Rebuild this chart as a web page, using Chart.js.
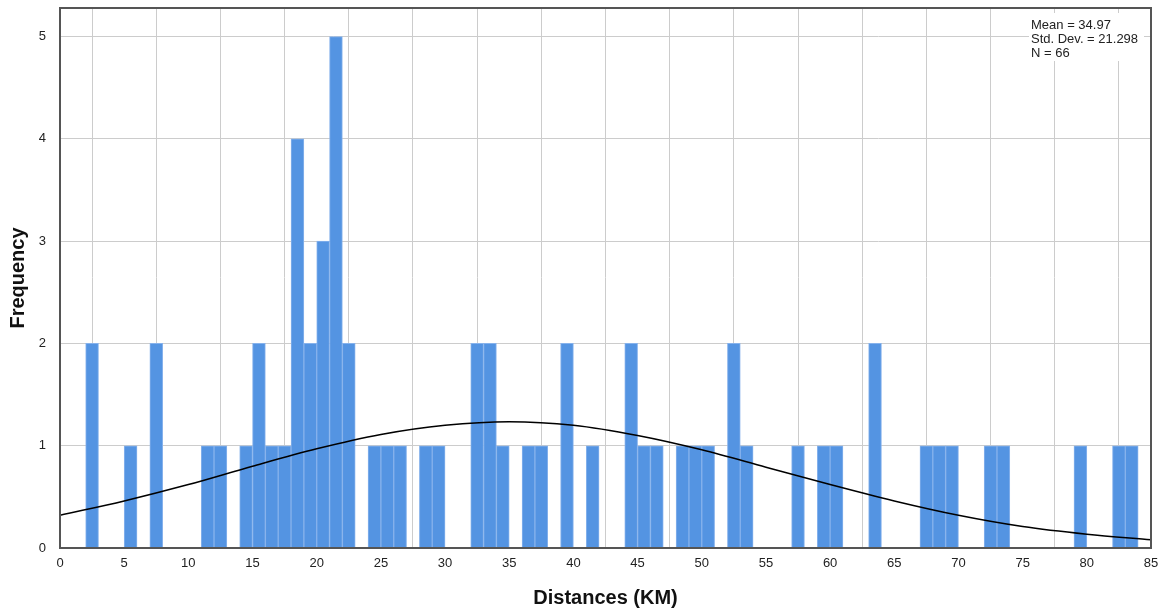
<!DOCTYPE html>
<html>
<head>
<meta charset="utf-8">
<script src="https://cdn.jsdelivr.net/npm/chart.js@4/dist/chart.umd.min.js"></script>
<style>
  html, body { margin: 0; padding: 0; background: #fff; }
  #wrap { width: 1161px; height: 612px; }
</style>
</head>
<body>
<div id="wrap"><canvas id="histChart"></canvas></div>
<script>
// Histogram bins (1 km wide, left edge) with their counts
const binStarts = [2, 5, 7, 11, 12, 14, 15, 16, 17, 18, 19, 20, 21, 22, 24, 25, 26, 28, 29,
    32, 33, 34, 36, 37, 39, 41, 44, 45, 46, 48, 49, 50, 52, 53, 57, 59, 60, 63,
    67, 68, 69, 72, 73, 79, 82, 83];
const frequencies = [2, 1, 2, 1, 1, 1, 2, 1, 1, 4, 2, 3, 5, 2, 1, 1, 1, 1, 1,
    2, 2, 1, 1, 1, 2, 1, 2, 1, 1, 1, 1, 1, 2, 1, 1, 1, 1, 2,
    1, 1, 1, 1, 1, 1, 1, 1];

// Normal curve
const curveX = [0, 5, 10, 15, 20, 25, 30, 35, 40, 45, 50, 55, 60, 65, 70, 75, 80, 85];
const curveY = [0.32, 0.46, 0.62, 0.80, 0.97, 1.11, 1.20, 1.235, 1.20, 1.10, 0.96, 0.79, 0.62, 0.46, 0.32, 0.21, 0.135, 0.08];

const statsLines = ['Mean = 34.97', 'Std. Dev. = 21.298', 'N = 66'];

const barPoints = binStarts.map((b, i) => ({ x: b + 0.5, y: frequencies[i] }));
const curvePoints = curveX.map((x, i) => ({ x: x, y: curveY[i] }));

const fontFamily = '"Liberation Sans", Arial, sans-serif';

const frameAndStats = {
    id: 'frameAndStats',
    afterDraw(chart) {
        const { ctx, chartArea: a } = chart;
        ctx.save();
        // stats box
        ctx.fillStyle = '#fff';
        ctx.fillRect(1029, 13, 115, 48);
        ctx.fillStyle = '#222';
        ctx.font = '13px ' + fontFamily;
        ctx.textBaseline = 'middle';
        statsLines.forEach((t, i) => ctx.fillText(t, 1031, 25 + i * 14));
        // frame
        ctx.strokeStyle = '#555';
        ctx.lineWidth = 2;
        ctx.strokeRect(a.left, a.top, a.right - a.left, a.bottom - a.top);
        ctx.restore();
    }
};

new Chart(document.getElementById('histChart').getContext('2d'), {
    type: 'bar',
    data: {
        datasets: [{
            type: 'line',
            data: curvePoints,
            borderColor: '#000',
            borderWidth: 1.5,
            pointRadius: 0,
            cubicInterpolationMode: 'monotone',
            order: 0
        }, {
            type: 'bar',
            data: barPoints,
            backgroundColor: '#5494e2',
            borderColor: '#86b2ec',
            borderWidth: 1,
            barPercentage: 1,
            categoryPercentage: 1,
            order: 1
        }]
    },
    options: {
        responsive: true,
        maintainAspectRatio: false,
        animation: false,
        layout: {
            padding: { left: 0, right: 10, top: 8, bottom: 0 }
        },
        plugins: {
            legend: { display: false },
            tooltip: { enabled: false }
        },
        scales: {
            x: {
                type: 'linear',
                min: 0,
                max: 85,
                offset: false,
                afterFit: axis => {
                    axis.height = 64;
                    axis.paddingLeft = 0;
                    axis.paddingRight = 0;
                },
                grid: { color: '#cccccc', lineWidth: 1, drawTicks: false },
                border: { color: '#555', width: 2 },
                ticks: {
                    stepSize: 5,
                    padding: 8,
                    maxRotation: 0,
                    color: '#222',
                    font: { family: fontFamily, size: 13 }
                },
                title: {
                    display: true,
                    text: 'Distances (KM)',
                    color: '#111',
                    padding: { top: 0, bottom: 2 },
                    font: { family: fontFamily, size: 20, weight: 'bold' }
                }
            },
            y: {
                min: 0,
                max: 5.28,
                afterFit: axis => {
                    axis.width = 60;
                    axis.paddingTop = 0;
                    axis.paddingBottom = 0;
                },
                afterBuildTicks: axis => {
                    axis.ticks = axis.ticks.filter(t => Number.isInteger(t.value));
                },
                grid: { color: '#cccccc', lineWidth: 1, drawTicks: false },
                border: { color: '#555', width: 2 },
                ticks: {
                    stepSize: 1,
                    padding: 14,
                    color: '#222',
                    font: { family: fontFamily, size: 13 }
                },
                title: {
                    display: true,
                    text: 'Frequency',
                    color: '#111',
                    padding: { top: 6, bottom: 0 },
                    font: { family: fontFamily, size: 20, weight: 'bold' }
                }
            }
        }
    },
    plugins: [frameAndStats]
});
</script>
</body>
</html>
